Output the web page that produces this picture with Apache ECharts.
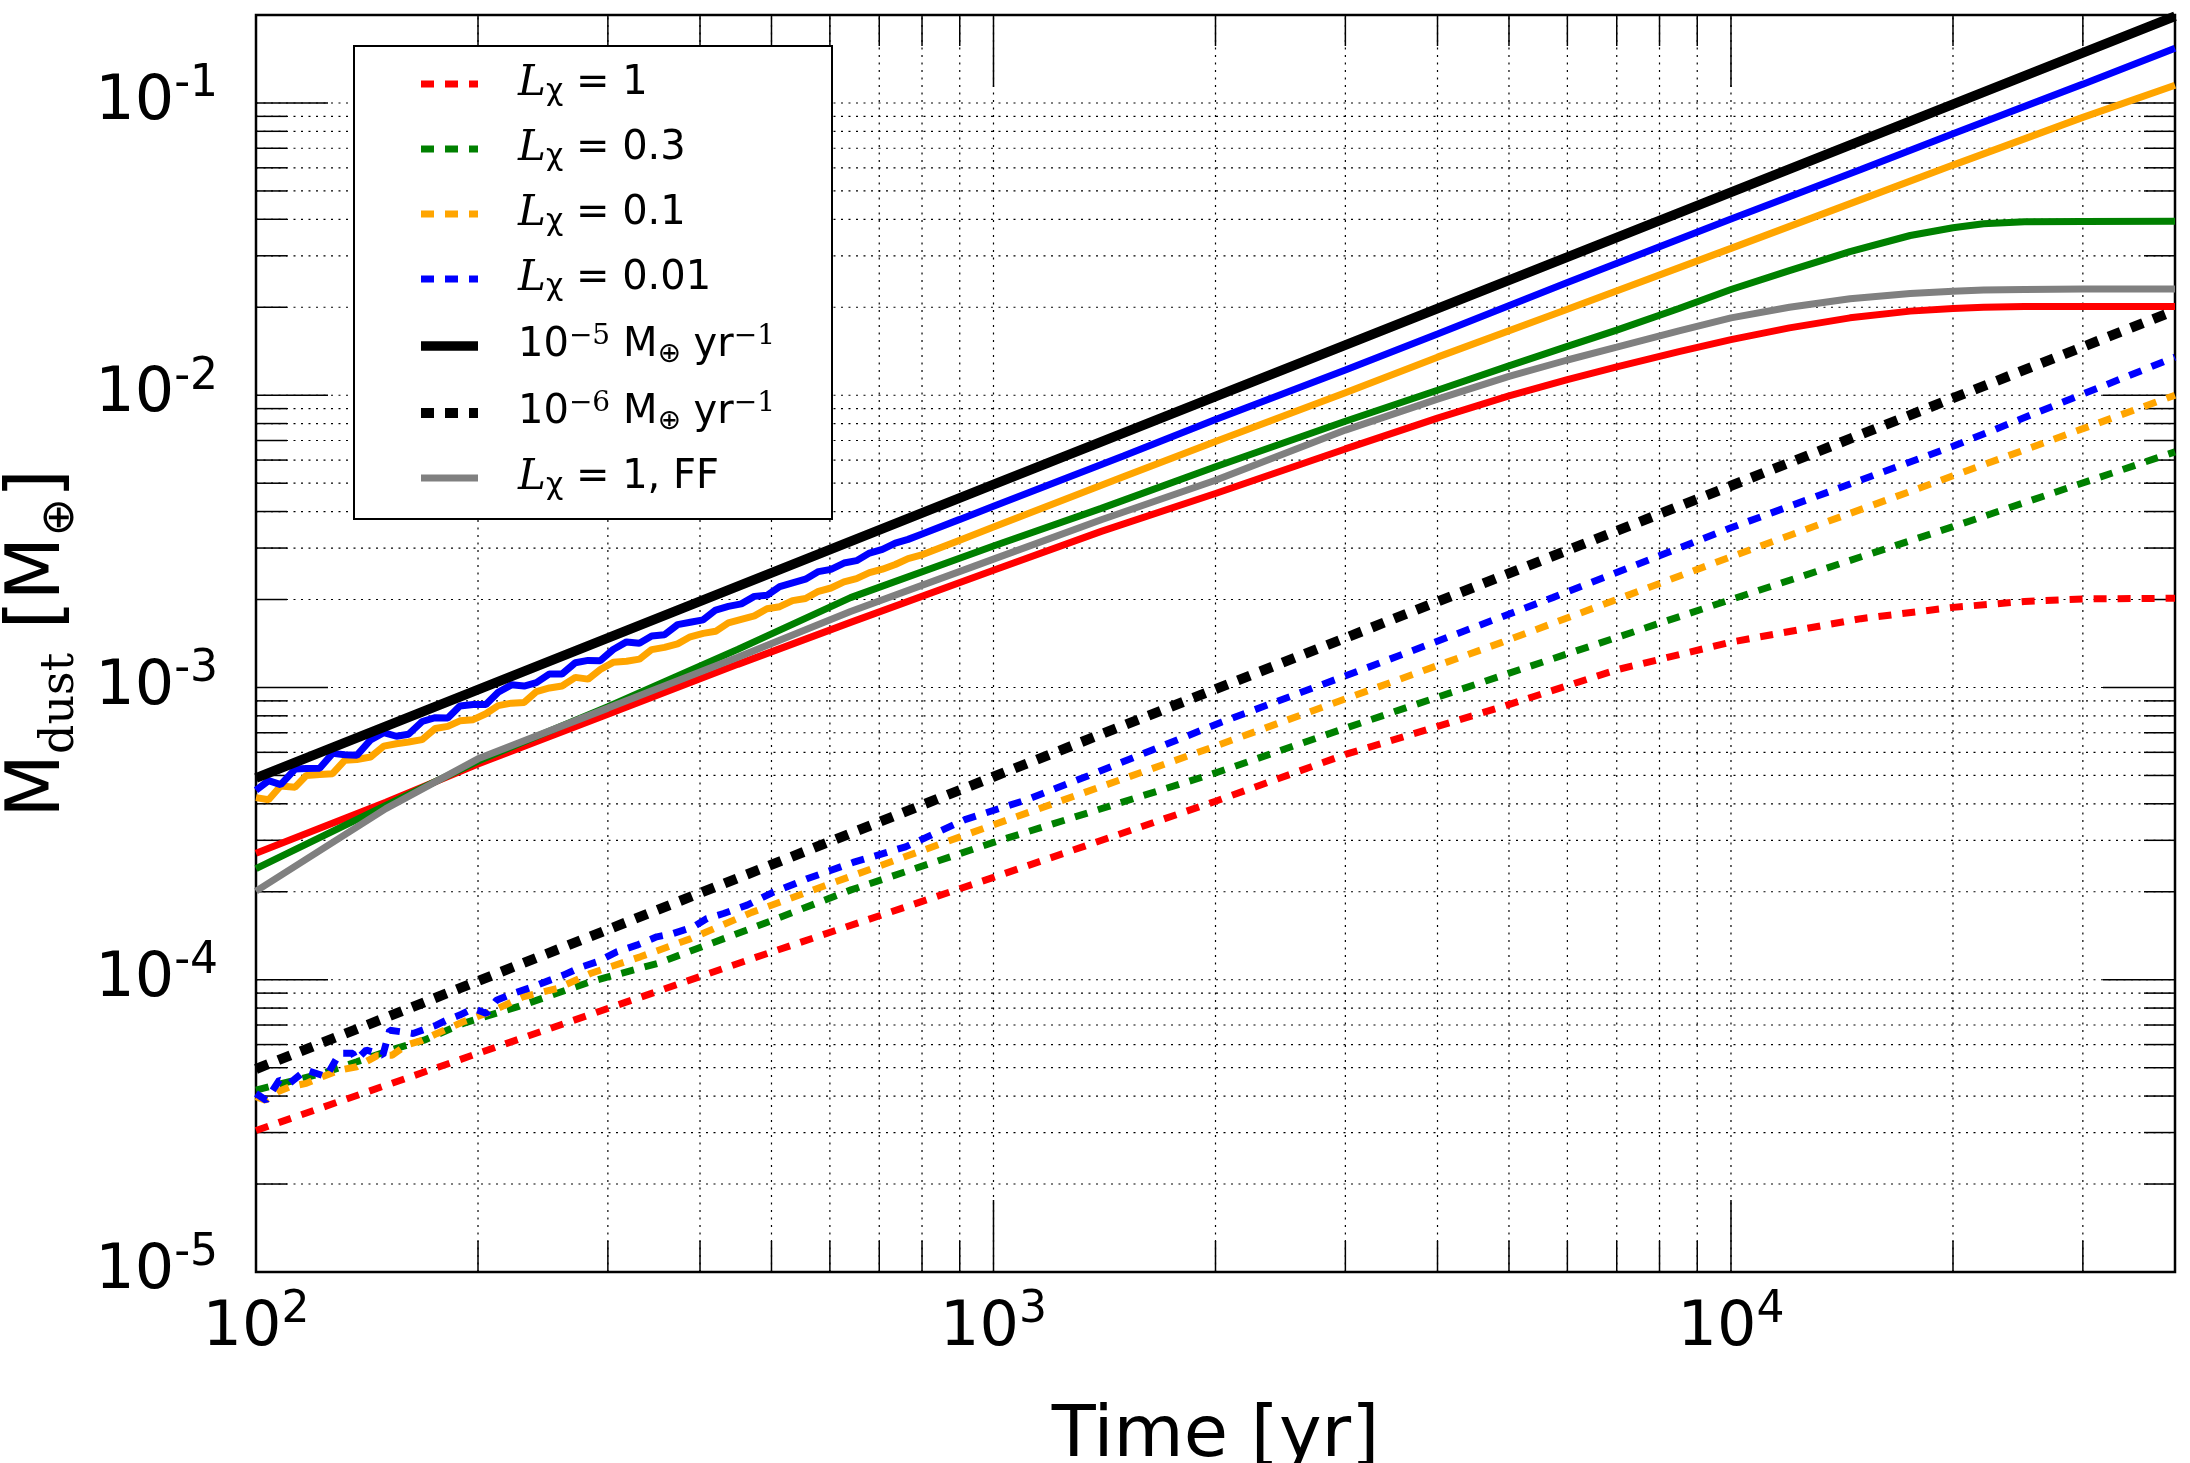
<!DOCTYPE html>
<html>
<head>
<meta charset="utf-8">
<title>Dust mass vs time</title>
<script src="https://cdn.jsdelivr.net/npm/echarts@6/dist/echarts.min.js"></script>
<style>
  html, body { margin: 0; padding: 0; background: #fff; }
  #chart { width: 2190px; height: 1463px; }
</style>
</head>
<body>
<div id="chart"></div>
<script>
// time [yr] / dust mass [M_earth]

// jagged early part of the L=0.01 and L=0.1 solid curves
const tNoisy = [100, 104, 108, 113, 117, 122, 127, 132, 137, 143, 149, 155, 161, 168, 175, 182, 189, 197, 205, 213,
  222, 231, 240, 250, 260, 271, 282, 293, 305, 318, 331, 344, 358, 373, 388, 404, 420, 437, 455, 474,
  493, 513, 534, 556, 579, 602, 627, 652, 679, 707, 736, 766, 797];
const tTail = [900, 1000, 1500, 2000, 3000, 4000, 6000, 10000, 15000, 20000, 30000, 40000];

const blueSolidNoisy = [4.45e-4, 4.80e-4, 4.65e-4, 5.26e-4, 5.28e-4, 5.29e-4, 5.95e-4, 5.89e-4, 5.86e-4, 6.62e-4,
  7.01e-4, 6.81e-4, 6.92e-4, 7.65e-4, 7.88e-4, 7.87e-4, 8.65e-4, 8.75e-4, 8.74e-4, 9.63e-4,
  1.021e-3, 1.011e-3, 1.039e-3, 1.113e-3, 1.112e-3, 1.215e-3, 1.238e-3, 1.235e-3, 1.349e-3, 1.432e-3,
  1.418e-3, 1.501e-3, 1.515e-3, 1.641e-3, 1.672e-3, 1.704e-3, 1.841e-3, 1.894e-3, 1.932e-3, 2.050e-3,
  2.067e-3, 2.214e-3, 2.280e-3, 2.348e-3, 2.492e-3, 2.537e-3, 2.666e-3, 2.716e-3, 2.883e-3, 2.969e-3,
  3.119e-3, 3.212e-3, 3.340e-3];
const blueSolidTail = [3.76e-3, 4.17e-3, 6.2e-3, 8.26e-3, 0.0122, 0.0162, 0.0243, 0.0401, 0.0592, 0.0785, 0.116, 0.154];

const orangeSolidNoisy = [4.20e-4, 4.13e-4, 4.60e-4, 4.56e-4, 5.00e-4, 5.04e-4, 5.07e-4, 5.64e-4, 5.67e-4, 5.78e-4,
  6.30e-4, 6.42e-4, 6.51e-4, 6.63e-4, 7.24e-4, 7.36e-4, 7.69e-4, 7.76e-4, 8.13e-4, 8.67e-4,
  8.84e-4, 8.89e-4, 9.68e-4, 9.96e-4, 1.012e-3, 1.083e-3, 1.068e-3, 1.152e-3, 1.219e-3, 1.230e-3,
  1.250e-3, 1.348e-3, 1.372e-3, 1.410e-3, 1.491e-3, 1.532e-3, 1.557e-3, 1.664e-3, 1.710e-3, 1.758e-3,
  1.859e-3, 1.890e-3, 1.982e-3, 2.016e-3, 2.134e-3, 2.190e-3, 2.297e-3, 2.357e-3, 2.471e-3, 2.539e-3,
  2.635e-3, 2.761e-3, 2.835e-3];
const orangeSolidTail = [3.19e-3, 3.54e-3, 5.26e-3, 6.95e-3, 0.0102, 0.0135, 0.0197, 0.0318, 0.0467, 0.0613, 0.0893, 0.115];

// smooth solid curves
const tSmooth = [100, 150, 200, 300, 450, 640, 1000, 1400, 2000, 3000, 4000, 5000, 6000, 7000, 8500, 10000,
  12000, 14500, 17500, 20000, 22000, 25000, 30000, 40000];
const redSolid = [2.71e-4, 4.05e-4, 5.47e-4, 8.1e-4, 1.2e-3, 1.67e-3, 2.52e-3, 3.42e-3, 4.61e-3, 6.55e-3, 8.35e-3,
  9.95e-3, 1.13e-2, 1.25e-2, 1.41e-2, 1.55e-2, 1.7e-2, 1.84e-2, 1.94e-2, 1.98e-2, 2.0e-2, 2.01e-2, 2.01e-2, 2.01e-2];
const greenSolid = [2.4e-4, 3.95e-4, 5.6e-4, 8.6e-4, 1.35e-3, 2.03e-3, 3.05e-3, 4.1e-3, 5.69e-3, 8.15e-3, 1.04e-2,
  1.26e-2, 1.47e-2, 1.67e-2, 1.98e-2, 2.3e-2, 2.67e-2, 3.1e-2, 3.52e-2, 3.74e-2, 3.86e-2, 3.92e-2, 3.93e-2, 3.94e-2];
const graySolid = [2.01e-4, 3.85e-4, 5.7e-4, 8.5e-4, 1.27e-3, 1.82e-3, 2.75e-3, 3.75e-3, 5.12e-3, 7.6e-3, 9.7e-3,
  1.16e-2, 1.32e-2, 1.46e-2, 1.66e-2, 1.84e-2, 2.0e-2, 2.14e-2, 2.23e-2, 2.27e-2, 2.29e-2, 2.3e-2, 2.31e-2, 2.31e-2];

// constant accretion rates
const tRate = [100, 1000, 10000, 40000];
const rate5 = [4.9e-4, 4.95e-3, 4.95e-2, 0.198];
const rate6 = [4.95e-5, 4.95e-4, 4.9e-3, 0.0195];

// dashed curves
const tRedDash = [100, 200, 470, 1000, 2000, 3000, 4900, 7000, 10000, 15000, 20000, 25000, 30000, 40000];
const redDashed = [3.05e-5, 5.6e-5, 1.18e-4, 2.24e-4, 4.08e-4, 5.9e-4, 8.6e-4, 1.15e-3, 1.43e-3, 1.72e-3,
  1.88e-3, 1.97e-3, 2.01e-3, 2.02e-3];

const tGreenDash = [100, 111, 123, 137, 152, 169, 191, 230, 284, 350, 470, 641, 1000, 2000, 3020, 4900, 10000, 20000, 40000];
const greenDashed = [4.19e-5, 4.48e-5, 4.78e-5, 5.24e-5, 5.74e-5, 6.21e-5, 7.09e-5, 8.19e-5, 9.84e-5, 1.137e-4,
  1.5e-4, 2.03e-4, 2.95e-4, 5.1e-4, 7.3e-4, 1.1e-3, 2.0e-3, 3.55e-3, 6.4e-3];

const tOrangeDash = [100, 103, 107, 111, 117, 123, 130, 137, 146, 153, 160, 168, 176, 191, 208, 230, 256, 284, 332,
  388, 470, 641, 1000, 2000, 3020, 4900, 10000, 20000, 40000];
const orangeDashed = [3.98e-5, 3.87e-5, 4.14e-5, 4.3e-5, 4.42e-5, 4.66e-5, 4.91e-5, 5.04e-5, 5.5e-5, 5.52e-5,
  5.98e-5, 6.2e-5, 6.55e-5, 7.18e-5, 7.77e-5, 8.74e-5, 9.33e-5, 1.05e-4, 1.198e-4, 1.38e-4,
  1.70e-4, 2.26e-4, 3.39e-4, 6.3e-4, 9.2e-4, 1.43e-3, 2.8e-3, 5.3e-3, 1.0e-2];

const tBlueDash = [100, 103.2, 107.6, 111, 116.9, 124.5, 129.8, 135.3, 136.7, 141.1, 148.6, 151.8, 163.3, 175.6,
  181.2, 188.9, 197, 205.4, 211.9, 223.2, 237.6, 250.4, 261.1, 276.5, 289.7, 308.4, 328.3, 349.5, 368.2, 392,
  408.7, 430.5, 463.4, 500, 560, 645, 760, 917, 1100, 1345, 2037, 3184, 5730, 10000, 20000, 40000];
const blueDashed = [4.08e-5, 3.87e-5, 4.54e-5, 4.42e-5, 4.91e-5, 4.66e-5, 5.6e-5, 5.6e-5, 5.31e-5, 5.75e-5,
  5.52e-5, 6.72e-5, 6.55e-5, 6.99e-5, 7.27e-5, 7.57e-5, 7.98e-5, 7.67e-5, 8.51e-5, 8.98e-5,
  9.46e-5, 9.97e-5, 1.037e-4, 1.107e-4, 1.151e-4, 1.246e-4, 1.313e-4, 1.402e-4, 1.44e-4, 1.517e-4,
  1.62e-4, 1.685e-4, 1.8e-4, 1.98e-4, 2.22e-4, 2.52e-4, 2.85e-4, 3.54e-4, 4.1e-4, 4.99e-4,
  7.61e-4, 1.159e-3, 2.03e-3, 3.52e-3, 6.69e-3, 1.35e-2];

// axes
const xRange = [100, 40000];
const yRange = [1e-5, 0.2];
const xMajorTicks = [100, 1000, 10000];
const xMinorTicks = [200, 300, 400, 500, 600, 700, 800, 900, 2000, 3000, 4000, 5000, 6000, 7000, 8000, 9000, 20000, 30000];
const yMajorTicks = [1e-5, 1e-4, 1e-3, 1e-2, 1e-1];
const yMinorTicks = [2e-5, 3e-5, 4e-5, 5e-5, 6e-5, 7e-5, 8e-5, 9e-5,
  2e-4, 3e-4, 4e-4, 5e-4, 6e-4, 7e-4, 8e-4, 9e-4,
  2e-3, 3e-3, 4e-3, 5e-3, 6e-3, 7e-3, 8e-3, 9e-3,
  2e-2, 3e-2, 4e-2, 5e-2, 6e-2, 7e-2, 8e-2, 9e-2];
const xLabelExps = [2, 3, 4];
const yLabelExps = [-5, -4, -3, -2, -1];

// legend
const legendNames = ['Lx1', 'Lx0.3', 'Lx0.1', 'Lx0.01', 'rate5', 'rate6', 'Lx1FF'];
const legendLabels = [
  '{it|L}{chi|χ}{t| = 1}',
  '{it|L}{chi|χ}{t| = 0.3}',
  '{it|L}{chi|χ}{t| = 0.1}',
  '{it|L}{chi|χ}{t| = 0.01}',
  '{tp|10}{sup|−5}{t| M}{op|⊕}{t| yr}{sup|−1}',
  '{tp|10}{sup|−6}{t| M}{op|⊕}{t| yr}{sup|−1}',
  '{it|L}{chi|χ}{t| = 1, FF}'
];

function pairs(xs, ys) {
  return xs.map((x, i) => [x, ys[i]]);
}

function expLabel(exps) {
  return function (v) {
    const e = Math.round(Math.log10(v));
    if (Math.abs(Math.log10(v) - e) > 1e-6 || exps.indexOf(e) < 0) return '';
    return '{b|10}{s|' + (e < 0 ? '-' + (-e) : e) + '}';
  };
}

const tickRich = {
  b: { fontFamily: 'DejaVu Sans', fontSize: 62, lineHeight: 80, color: '#000' },
  s: { fontFamily: 'DejaVu Sans', fontSize: 44, lineHeight: 44, verticalAlign: 'top', color: '#000' }
};

// grid + ticks on all four sides, drawn through the axes
const gridItems = []
  .concat(xMajorTicks.map(v => [v, yRange[0], 0, 1]))
  .concat(xMinorTicks.map(v => [v, yRange[0], 0, 0]))
  .concat(yMajorTicks.map(v => [xRange[0], v, 1, 1]))
  .concat(yMinorTicks.map(v => [xRange[0], v, 1, 0]));

function renderGrid(params, api) {
  const isY = api.value(2) === 1;
  const len = api.value(3) === 1 ? 72 : 31;
  let a, b;
  if (isY) {
    a = api.coord([xRange[0], api.value(1)]);
    b = api.coord([xRange[1], api.value(1)]);
  } else {
    a = api.coord([api.value(0), yRange[0]]);
    b = api.coord([api.value(0), yRange[1]]);
  }
  const dx = isY ? len : 0;
  const dy = isY ? 0 : -len;
  return {
    type: 'group',
    children: [
      { type: 'line', shape: { x1: a[0], y1: a[1], x2: b[0], y2: b[1] },
        style: { stroke: '#000', lineWidth: 1.2, lineDash: [2, 5.5] } },
      { type: 'line', shape: { x1: a[0], y1: a[1], x2: a[0] + dx, y2: a[1] + dy },
        style: { stroke: '#000', lineWidth: 1.5 } },
      { type: 'line', shape: { x1: b[0], y1: b[1], x2: b[0] - dx, y2: b[1] - dy },
        style: { stroke: '#000', lineWidth: 1.5 } }
    ]
  };
}

function lineSeries(name, data, color, width, dash, z) {
  return {
    name: name,
    type: 'line',
    data: data,
    symbol: 'none',
    showSymbol: false,
    smooth: false,
    silent: true,
    z: z,
    lineStyle: { color: color, width: width, type: dash || 'solid' },
    itemStyle: { color: color }
  };
}

const chart = echarts.init(document.getElementById('chart'));
chart.setOption({
  backgroundColor: '#fff',
  animation: false,
  textStyle: { fontFamily: 'DejaVu Sans', color: '#000' },
  grid: {
    left: 256, top: 15, right: 15, bottom: 191,
    show: true, borderColor: '#000', borderWidth: 2.5, backgroundColor: 'transparent',
    outerBoundsMode: 'none'
  },
  xAxis: {
    type: 'log', logBase: 10, min: xRange[0], max: xRange[1],
    name: 'Time [yr]', nameLocation: 'middle', nameGap: 129,
    nameTextStyle: { fontFamily: 'DejaVu Sans', fontSize: 72, lineHeight: 72, color: '#000' },
    axisLine: { show: false }, axisTick: { show: false }, splitLine: { show: false }, minorTick: { show: false },
    axisLabel: { margin: 17, color: '#000', formatter: expLabel(xLabelExps), rich: tickRich, hideOverlap: false }
  },
  yAxis: {
    type: 'log', logBase: 10, min: yRange[0], max: yRange[1],
    name: '{m|M}{d|dust}{m| [M}{os|⊕}{m|]}', nameLocation: 'middle', nameGap: 154, nameRotate: 90,
    nameTextStyle: {
      color: '#000',
      rich: {
        m: { fontFamily: 'DejaVu Sans', fontSize: 74, lineHeight: 90, color: '#000' },
        d: { fontFamily: 'DejaVu Serif', fontSize: 46, lineHeight: 42, verticalAlign: 'bottom', color: '#000' },
        os: { fontFamily: 'DejaVu Sans', fontSize: 46, lineHeight: 51, verticalAlign: 'bottom', color: '#000' }
      }
    },
    axisLine: { show: false }, axisTick: { show: false }, splitLine: { show: false }, minorTick: { show: false },
    axisLabel: { margin: 38, color: '#000', formatter: expLabel(yLabelExps), rich: tickRich, hideOverlap: false }
  },
  legend: {
    show: true,
    orient: 'vertical',
    left: 416, top: 63,
    padding: 0,
    itemGap: 21,
    itemWidth: 57,
    itemHeight: 20,
    selectedMode: false,
    z: 10,
    data: legendNames,
    itemStyle: { opacity: 0 },
    lineStyle: { width: 'inherit', type: 'inherit' },
    formatter: function (name) { return legendLabels[legendNames.indexOf(name)]; },
    textStyle: {
      color: '#000',
      rich: {
        it: { fontFamily: 'DejaVu Serif', fontStyle: 'italic', fontSize: 42, lineHeight: 46, padding: [0, 0, 0, 35], color: '#000' },
        chi: { fontFamily: 'DejaVu Sans', fontSize: 30, lineHeight: 18, verticalAlign: 'bottom', color: '#000' },
        t: { fontFamily: 'DejaVu Sans', fontSize: 40, lineHeight: 46, color: '#000' },
        tp: { fontFamily: 'DejaVu Sans', fontSize: 40, lineHeight: 46, padding: [0, 0, 0, 35], color: '#000' },
        sup: { fontFamily: 'DejaVu Serif', fontSize: 28, lineHeight: 18, verticalAlign: 'top', color: '#000' },
        op: { fontFamily: 'DejaVu Sans', fontSize: 28, lineHeight: 24, verticalAlign: 'bottom', color: '#000' }
      }
    }
  },
  graphic: [{
    type: 'rect', left: 353, top: 45, z: 5,
    shape: { width: 478, height: 473 },
    style: { fill: '#fff', stroke: '#000', lineWidth: 2 }
  }],
  series: [
    {
      type: 'custom', name: 'grid', silent: true, z: 1,
      data: gridItems, encode: { x: 0, y: 1 },
      renderItem: renderGrid
    },
    lineSeries('Lx1 solid', pairs(tSmooth, redSolid), '#ff0000', 7, null, 2),
    lineSeries('Lx1', pairs(tRedDash, redDashed), '#ff0000', 7, [13, 11], 2),
    lineSeries('Lx0.3 solid', pairs(tSmooth, greenSolid), '#008000', 7, null, 2),
    lineSeries('Lx0.3', pairs(tGreenDash, greenDashed), '#008000', 7, [13, 11], 2),
    lineSeries('Lx0.1 solid', pairs(tNoisy.concat(tTail), orangeSolidNoisy.concat(orangeSolidTail)), '#ffa500', 7, null, 2),
    lineSeries('Lx0.1', pairs(tOrangeDash, orangeDashed), '#ffa500', 7, [13, 11], 2),
    lineSeries('Lx0.01 solid', pairs(tNoisy.concat(tTail), blueSolidNoisy.concat(blueSolidTail)), '#0000ff', 7, null, 2),
    lineSeries('Lx0.01', pairs(tBlueDash, blueDashed), '#0000ff', 7, [13, 11], 2),
    lineSeries('rate5', pairs(tRate, rate5), '#000000', 9.5, null, 3),
    lineSeries('rate6', pairs(tRate, rate6), '#000000', 10, [13, 11], 3),
    lineSeries('Lx1FF', pairs(tSmooth, graySolid), '#808080', 7, null, 3)
  ]
});
</script>
</body>
</html>
